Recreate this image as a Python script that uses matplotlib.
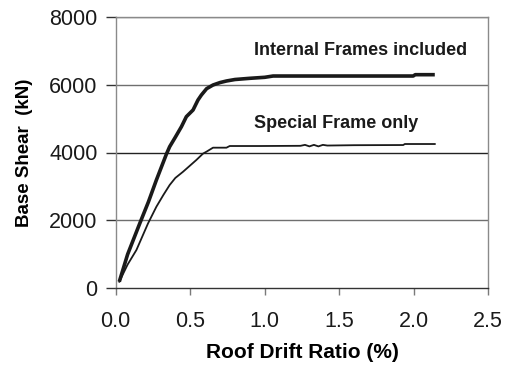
import matplotlib
matplotlib.use("Agg")
import matplotlib.pyplot as plt

plt.rcParams['font.family'] = ['Liberation Sans', 'DejaVu Sans']

# Internal Frames included (thick curve)
drift_internal = [0.024, 0.08, 0.161, 0.22, 0.273, 0.34, 0.362, 0.40, 0.441, 0.474, 0.519,
                  0.552, 0.575, 0.61, 0.653, 0.70, 0.743, 0.80, 0.899, 1.0, 1.056,
                  1.5, 1.996, 2.01, 2.141]
shear_internal = [194, 1000, 1906, 2550, 3190, 3950, 4171, 4450, 4760, 5055, 5252,
                  5546, 5694, 5880, 5988, 6060, 6106, 6150, 6185, 6215, 6253,
                  6253, 6253, 6292, 6292]

# Special Frame only (thin curve)
drift_special = [0.024, 0.08, 0.139, 0.217, 0.273, 0.32, 0.362, 0.40, 0.452, 0.50, 0.541,
                 0.586, 0.609, 0.653, 0.70, 0.743, 0.765, 0.966, 1.24, 1.27, 1.30,
                 1.33, 1.36, 1.39, 1.42, 1.60, 1.929, 1.94, 2.141]
shear_special = [194, 700, 1128, 1912, 2403, 2750, 3042, 3250, 3434, 3620, 3779,
                 3968, 4024, 4142, 4142, 4142, 4191, 4191, 4197, 4225, 4180,
                 4225, 4180, 4225, 4205, 4215, 4220, 4250, 4250]

x_ticks = [0.0, 0.5, 1.0, 1.5, 2.0, 2.5]
x_ticklabels = ["0.0", "0.5", "1.0", "1.5", "2.0", "2.5"]
y_ticks = [0, 2000, 4000, 6000, 8000]
y_ticklabels = ["0", "2000", "4000", "6000", "8000"]

fig = plt.figure(figsize=(5.05, 3.69), dpi=100)
ax = fig.add_axes([115.7 / 505, 1 - 288.3 / 369, (488.3 - 115.7) / 505, (288.3 - 16.7) / 369])

for yv in y_ticks[1:]:
    ax.axhline(yv, color='#6f6f6f' if yv != 4000 else '#222222', lw=1.0, zorder=1)

ax.plot(drift_internal, shear_internal, color='#1a1a1a', lw=2.6, solid_capstyle='butt', zorder=3)
ax.plot(drift_special, shear_special, color='#1a1a1a', lw=1.3, zorder=3)

ax.set_xlim(0, 2.5)
ax.set_ylim(0, 8000)
ax.set_xticks(x_ticks)
ax.set_xticklabels(x_ticklabels)
ax.set_yticks(y_ticks)
ax.set_yticklabels(y_ticklabels)

ax.tick_params(axis='both', labelsize=15.5, colors='#1a1a1a', direction='out')
ax.tick_params(axis='x', length=5, width=1, color='#7a7a7a', pad=11)
ax.tick_params(axis='y', length=7, width=1, color='#333333', pad=6)

for s in ['left', 'top', 'right']:
    ax.spines[s].set_color('#8a8a8a')
    ax.spines[s].set_linewidth(1.0)
ax.spines['bottom'].set_color('#333333')
ax.spines['bottom'].set_linewidth(1.0)

ax.set_xlabel("Roof Drift Ratio (%)", fontsize=15, fontweight='bold', labelpad=8)
ax.set_ylabel("Base Shear  (kN)", fontsize=13.5, fontweight='bold', labelpad=12)

ax.text(0.928, 7019, "Internal Frames included", fontsize=13, fontweight='bold',
        va='center', ha='left', color='#1a1a1a')
ax.text(0.928, 4860, "Special Frame only", fontsize=13, fontweight='bold',
        va='center', ha='left', color='#1a1a1a')

fig.savefig("out.png", dpi=100)
